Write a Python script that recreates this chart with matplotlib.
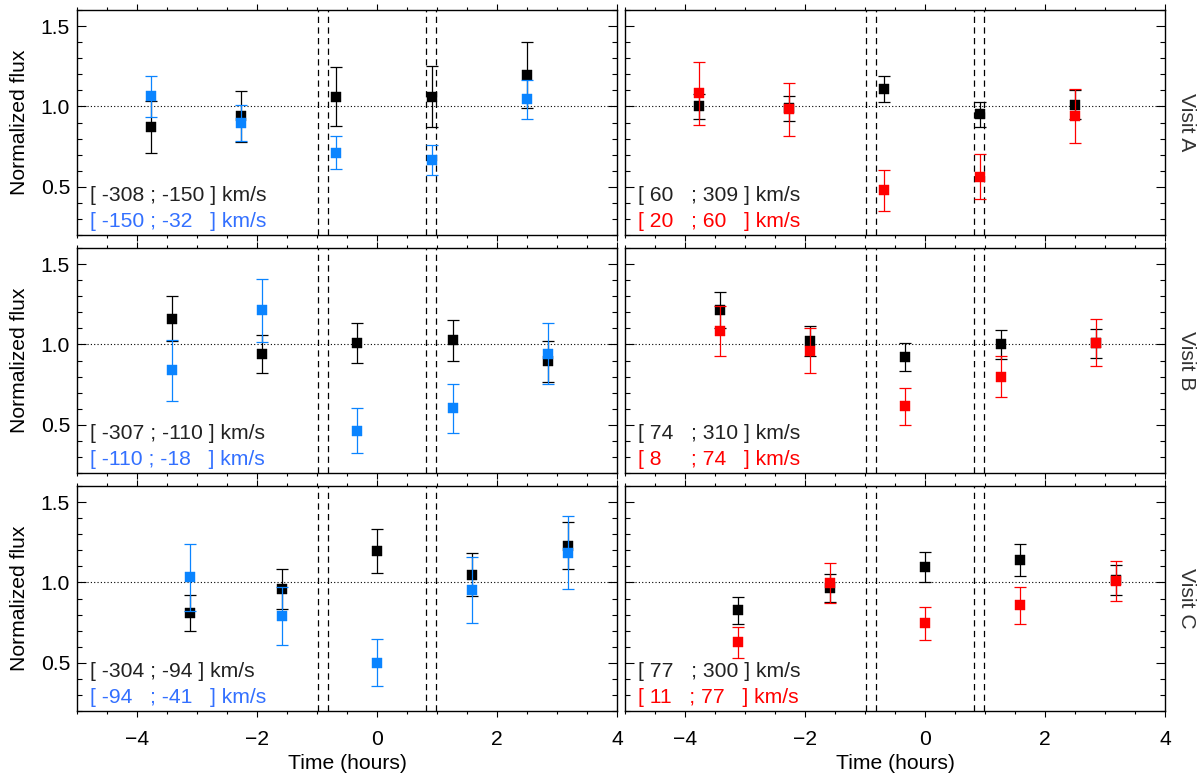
import matplotlib
matplotlib.use("Agg")
import matplotlib.pyplot as plt
from matplotlib.ticker import MultipleLocator

plt.rcParams['font.family'] = ['Liberation Sans', 'DejaVu Sans']

# ---------------- data ----------------
visits = ["Visit A", "Visit B", "Visit C"]
times = [
    [-3.77, -2.27, -0.69, 0.91, 2.50],
    [-3.41, -1.92, -0.33, 1.26, 2.85],
    [-3.12, -1.59, 0.00, 1.59, 3.18],
]

# left column (blue side)
blk_left = [
    [0.872, 0.939, 1.061, 1.061, 1.195],
    [1.160, 0.940, 1.008, 1.025, 0.894],
    [0.810, 0.959, 1.195, 1.048, 1.228],
]
blk_left_err = [
    [0.163, 0.160, 0.184, 0.190, 0.205],
    [0.140, 0.118, 0.125, 0.130, 0.125],
    [0.110, 0.122, 0.139, 0.133, 0.146],
]
blue = [
    [1.063, 0.897, 0.713, 0.667, 1.044],
    [0.838, 1.214, 0.464, 0.603, 0.942],
    [1.033, 0.789, 0.501, 0.952, 1.186],
]
blue_err = [
    [0.128, 0.110, 0.100, 0.095, 0.120],
    [0.187, 0.196, 0.140, 0.152, 0.190],
    [0.208, 0.180, 0.144, 0.204, 0.228],
]

# right column (red side)
blk_right = [
    [1.000, 0.990, 1.107, 0.950, 1.010],
    [1.214, 1.021, 0.923, 1.000, 1.006],
    [0.826, 0.967, 1.095, 1.141, 1.015],
]
blk_right_err = [
    [0.080, 0.078, 0.080, 0.078, 0.090],
    [0.110, 0.093, 0.087, 0.092, 0.093],
    [0.082, 0.088, 0.095, 0.100, 0.092],
]
red = [
    [1.082, 0.981, 0.477, 0.561, 0.939],
    [1.083, 0.961, 0.614, 0.799, 1.012],
    [0.627, 0.996, 0.745, 0.857, 1.010],
]
red_err = [
    [0.195, 0.166, 0.130, 0.140, 0.167],
    [0.158, 0.140, 0.113, 0.128, 0.144],
    [0.098, 0.127, 0.104, 0.115, 0.125],
]

left_labels_blk = ["[ -308 ; -150 ] km/s", "[ -307 ; -110 ] km/s", "[ -304 ; -94 ] km/s"]
left_labels_col = ["[ -150 ; -32   ] km/s", "[ -110 ; -18   ] km/s", "[ -94   ; -41   ] km/s"]
right_labels_blk = ["[ 60   ; 309 ] km/s", "[ 74   ; 310 ] km/s", "[ 77   ; 300 ] km/s"]
right_labels_col = ["[ 20   ; 60   ] km/s", "[ 8     ; 74   ] km/s", "[ 11   ; 77   ] km/s"]

contact_times = [-0.99, -0.82, 0.82, 0.99]
xticks = [-4, -2, 0, 2, 4]
yticks = [0.5, 1.0, 1.5]

# ---------------- style ----------------
BLUE = "#0A84FF"
BLUE_TXT = "#3370FF"
RED = "#FF0000"
FS = 15.2

fig = plt.figure(figsize=(12, 7.79), dpi=100)

W = 1200.0
H = 779.0
col_x = [77 / W, 625 / W]
ax_w = 540 / W
ax_h = 225 / H
row_top = [10, 248, 486]


def draw_series(ax, t, y, e, color, z):
    ax.errorbar(t, y, yerr=e, fmt="none", ecolor=color, elinewidth=0.9,
                capsize=4.0, capthick=0.9, zorder=z)
    ax.plot(t, y, ls="none", marker="s", ms=6.5, mfc=color, mec=color,
            mew=0.3, zorder=z + 0.5)


for r in range(3):
    for c in range(2):
        bottom = 1 - (row_top[r] + 225) / H
        ax = fig.add_axes([col_x[c], bottom, ax_w, ax_h])
        ax.set_xlim(-5, 4)
        ax.set_ylim(0.2, 1.6)

        ax.axhline(1.0, color="black", lw=0.8, ls=(0, (1, 2)), zorder=1)
        for tc in contact_times:
            ax.axvline(tc, color="black", lw=0.9, ls=(0, (5, 3.5)), zorder=1)

        t = times[r]
        if c == 0:
            kb, eb, kc, ec, col = blk_left[r], blk_left_err[r], blue[r], blue_err[r], BLUE
            lab1, lab2, tcol = left_labels_blk[r], left_labels_col[r], BLUE_TXT
        else:
            kb, eb, kc, ec, col = blk_right[r], blk_right_err[r], red[r], red_err[r], RED
            lab1, lab2, tcol = right_labels_blk[r], right_labels_col[r], RED

        draw_series(ax, t, kb, eb, "black", 3)
        draw_series(ax, t, kc, ec, col, 5)

        ax.text(0.025, 0.152, lab1, transform=ax.transAxes, color="#222222",
                fontsize=FS, ha="left", va="baseline")
        ax.text(0.025, 0.037, lab2, transform=ax.transAxes, color=tcol,
                fontsize=FS, ha="left", va="baseline")

        # ticks
        ax.set_xticks(xticks)
        ax.xaxis.set_minor_locator(MultipleLocator(0.5))
        ax.set_yticks(yticks)
        ax.yaxis.set_minor_locator(MultipleLocator(0.1))
        ax.tick_params(axis="x", which="both", direction="out", top=True, bottom=True,
                       width=0.8, labelsize=FS, pad=9)
        ax.tick_params(axis="x", which="major", length=4.5)
        ax.tick_params(axis="x", which="minor", length=2.3)
        ax.tick_params(axis="y", which="both", direction="in", left=True, right=True,
                       width=0.8, labelsize=FS, pad=5)
        ax.tick_params(axis="y", which="major", length=6.5)
        ax.tick_params(axis="y", which="minor", length=3.6)
        ax.set_yticklabels(["0.5", "1.0", "1.5"])
        for s in ax.spines.values():
            s.set_linewidth(1.0)

        if r < 2:
            ax.tick_params(axis="x", labelbottom=False)
        else:
            ax.set_xlabel("Time (hours)", fontsize=FS)
            ax.xaxis.set_label_coords(0.5, -0.19)
        if c == 0:
            ax.set_ylabel("Normalized flux", fontsize=FS)
            ax.yaxis.set_label_coords(-0.088, 0.5)
        else:
            ax.tick_params(axis="y", labelleft=False)
            ax.text(1.039, 0.5, visits[r], transform=ax.transAxes, rotation=270,
                    fontsize=FS, ha="center", va="center", color="#333333")

fig.savefig("out.png", dpi=100)
